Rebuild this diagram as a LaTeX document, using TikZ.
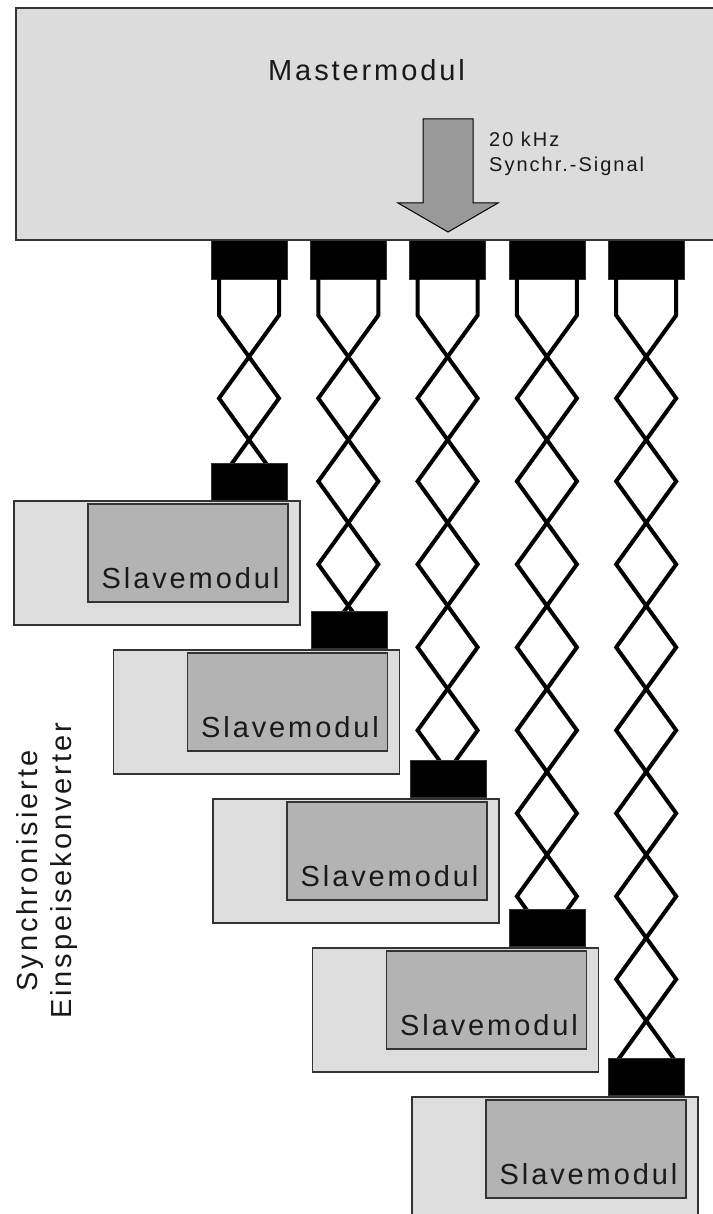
\documentclass[tikz,border=0pt]{standalone}
\usepackage{fontspec}
\setmainfont{Liberation Sans}[LetterSpace=10]
\usetikzlibrary{calc}
\definecolor{masterfill}{HTML}{DCDCDC}
\definecolor{outerfill}{HTML}{DDDDDD}
\definecolor{innerfill}{HTML}{B3B3B3}
\definecolor{arrowfill}{HTML}{999999}
\definecolor{edge}{HTML}{333333}
\tikzset{
  plug/.style={rectangle, fill=black, draw=edge, line width=0.6pt, inner sep=0pt, minimum width=76pt},
  wire/.style={line width=4pt, black, line join=miter},
  outerbox/.style={rectangle, fill=outerfill, draw=edge, line width=1.5pt, inner sep=0pt, minimum width=286pt, minimum height=124pt, anchor=north west},
  innerbox/.style={rectangle, fill=innerfill, draw=edge, line width=1.5pt, inner sep=0pt, minimum width=200pt, minimum height=98pt, anchor=north west},
  bigtext/.style={font=\fontsize{29pt}{34pt}\selectfont, text=black!90, inner sep=0pt},
  smalltext/.style={font=\fontsize{20pt}{25pt}\selectfont, text=black!90, inner sep=0pt, anchor=base west},
}
\begin{document}
\begin{tikzpicture}[x=1pt,y=-1pt]
\useasboundingbox (0,0) rectangle (712,1214);
% master module
\node[rectangle, fill=masterfill, draw=edge, line width=2pt, inner sep=0pt,
      minimum width=720pt, minimum height=232pt, anchor=north west] (master) at (15,7) {};
\node[bigtext, anchor=base] (mtext) at (366.5,81) {Mastermodul};
\draw[fill=arrowfill, draw=black, line width=1pt]
  (423,119) -- (473,119) -- (473,203) -- (498,203) -- (448,232) -- (398,203) -- (423,203) -- cycle;
\node[smalltext] (freq) at (489,147) {20 kHz};
\node[smalltext] (sig) at (489,172) {Synchr.-Signal};
% vertical label
\node[bigtext, rotate=90, anchor=base] (v1) at (37,871) {Synchronisierte};
\node[bigtext, rotate=90, anchor=base] (v2) at (71,871) {Einspeisekonverter};
% chains and slaves
\foreach \k in {0,...,4}{
  \pgfmathsetmacro{\tx}{249+99.3*\k}
  \pgfmathsetmacro{\bx}{249.5+99.3*\k}
  \pgfmathsetmacro{\by}{481.5+148.75*\k}
  \pgfmathsetmacro{\ox}{13+99.5*\k}
  \pgfmathsetmacro{\oy}{500+149*\k}
  \node[plug, minimum height=39pt] (top\k) at (\tx,259.5) {};
  \begin{scope}
    \clip ($(top\k.south)+(-45,0)$) rectangle ($(\bx,\by)+(45,-18.5)$);
    \draw[wire] ($(top\k.south)+(-30,-2)$) -- ++(0,38)
      \foreach \i in {1,...,10}{ -- ++({60*(mod(\i,2)*2-1)},83) };
    \draw[wire] ($(top\k.south)+(30,-2)$) -- ++(0,38)
      \foreach \i in {1,...,10}{ -- ++({-60*(mod(\i,2)*2-1)},83) };
  \end{scope}
  \node[outerbox] (outer\k) at (\ox,\oy) {};
  \node[innerbox] (inner\k) at ($(\ox,\oy)+(74,3)$) {};
  \node[bigtext, anchor=base east] (stext\k) at ($(inner\k.south east)+(-9,-14)$) {Slavemodul};
  \node[plug, minimum height=37pt] (bot\k) at (\bx,\by) {};
}
\end{tikzpicture}
\end{document}
